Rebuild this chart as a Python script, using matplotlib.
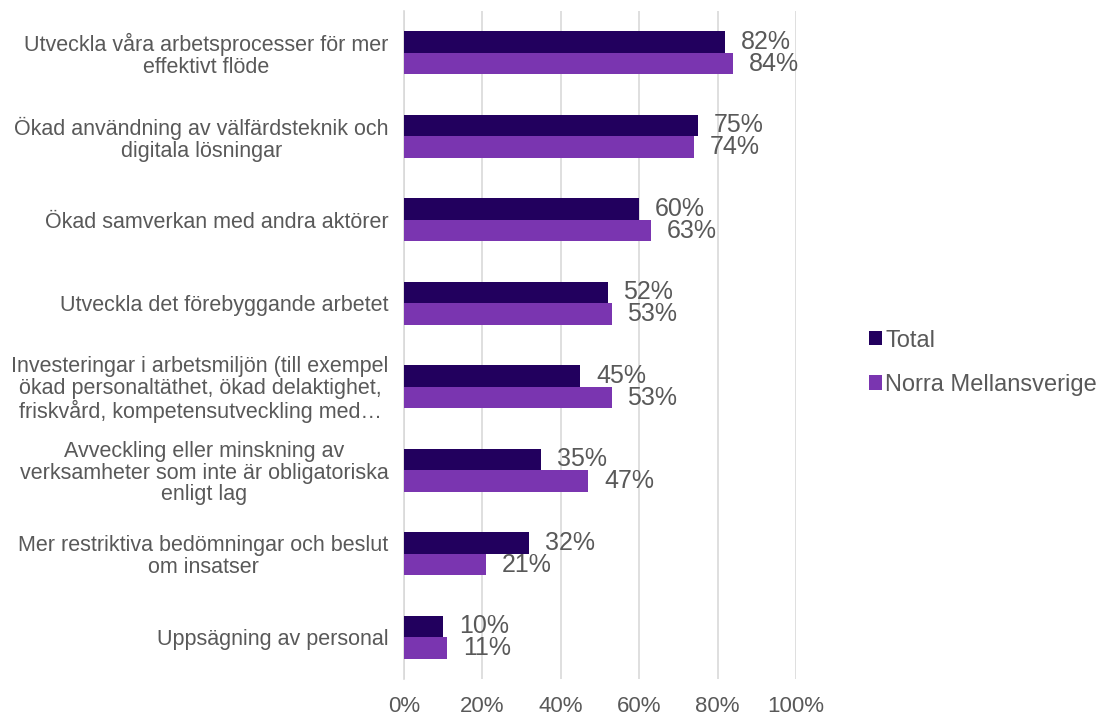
import numpy as np
import matplotlib.pyplot as plt
from matplotlib.patches import Patch

plt.rcParams['font.family'] = ['Liberation Sans', 'DejaVu Sans']

categories = [
    "Utveckla våra arbetsprocesser för mer\neffektivt flöde",
    "Ökad användning av välfärdsteknik och\ndigitala lösningar",
    "Ökad samverkan med andra aktörer",
    "Utveckla det förebyggande arbetet",
    "Investeringar i arbetsmiljön (till exempel\nökad personaltäthet, ökad delaktighet,\nfriskvård, kompetensutveckling med…",
    "Avveckling eller minskning av\nverksamheter som inte är obligatoriska\nenligt lag",
    "Mer restriktiva bedömningar och beslut\nom insatser",
    "Uppsägning av personal",
]
total = [82, 75, 60, 52, 45, 35, 32, 10]
norra = [84, 74, 63, 53, 53, 47, 21, 11]
series_names = ["Total", "Norra Mellansverige"]
colors = ["#22005E", "#7A35B0"]
xticks = [0, 20, 40, 60, 80, 100]

grey = "#595959"

fig = plt.figure(figsize=(11, 7.18), dpi=100)
ax = fig.add_axes([404 / 1100, 1 - 679 / 718, 392 / 1100, 668 / 718])

y = np.arange(len(categories))
h = 0.26
ax.barh(y - h / 2, total, height=h, color=colors[0], zorder=3)
ax.barh(y + h / 2, norra, height=h, color=colors[1], zorder=3)

for yi, v in zip(y, total):
    ax.text(v + 4.0, yi - h / 2, f"{v}%", va="center", ha="left", fontsize=18, color=grey)
for yi, v in zip(y, norra):
    ax.text(v + 4.0, yi + h / 2, f"{v}%", va="center", ha="left", fontsize=18, color=grey)

ax.set_xlim(0, 100)
ax.set_ylim(len(categories) - 0.5, -0.5)
ax.set_xticks(xticks)
ax.set_xticklabels([f"{t}%" for t in xticks], fontsize=16, color=grey)
ax.set_yticks(y)
ax.set_yticklabels(categories, fontsize=15.5, color=grey, multialignment="center", linespacing=1.05)
ax.tick_params(axis="both", length=0)
ax.tick_params(axis="y", pad=11)
ax.tick_params(axis="x", pad=12)
ax.grid(axis="x", color="#D9D9D9", linewidth=1.2, zorder=0)
for s in ["top", "right", "bottom"]:
    ax.spines[s].set_visible(False)
ax.spines["left"].set_color("#D9D9D9")
ax.spines["left"].set_linewidth(1.2)

handles = [Patch(facecolor=c) for c in colors]
fig.legend(handles, series_names, loc="upper left", bbox_to_anchor=(852 / 1100, 1 - 313 / 718),
           frameon=False, fontsize=17, labelcolor=grey, handlelength=0.55, handleheight=0.55,
           handletextpad=0.15, labelspacing=0.95, borderpad=0.2)

fig.savefig("out.png", dpi=100)
